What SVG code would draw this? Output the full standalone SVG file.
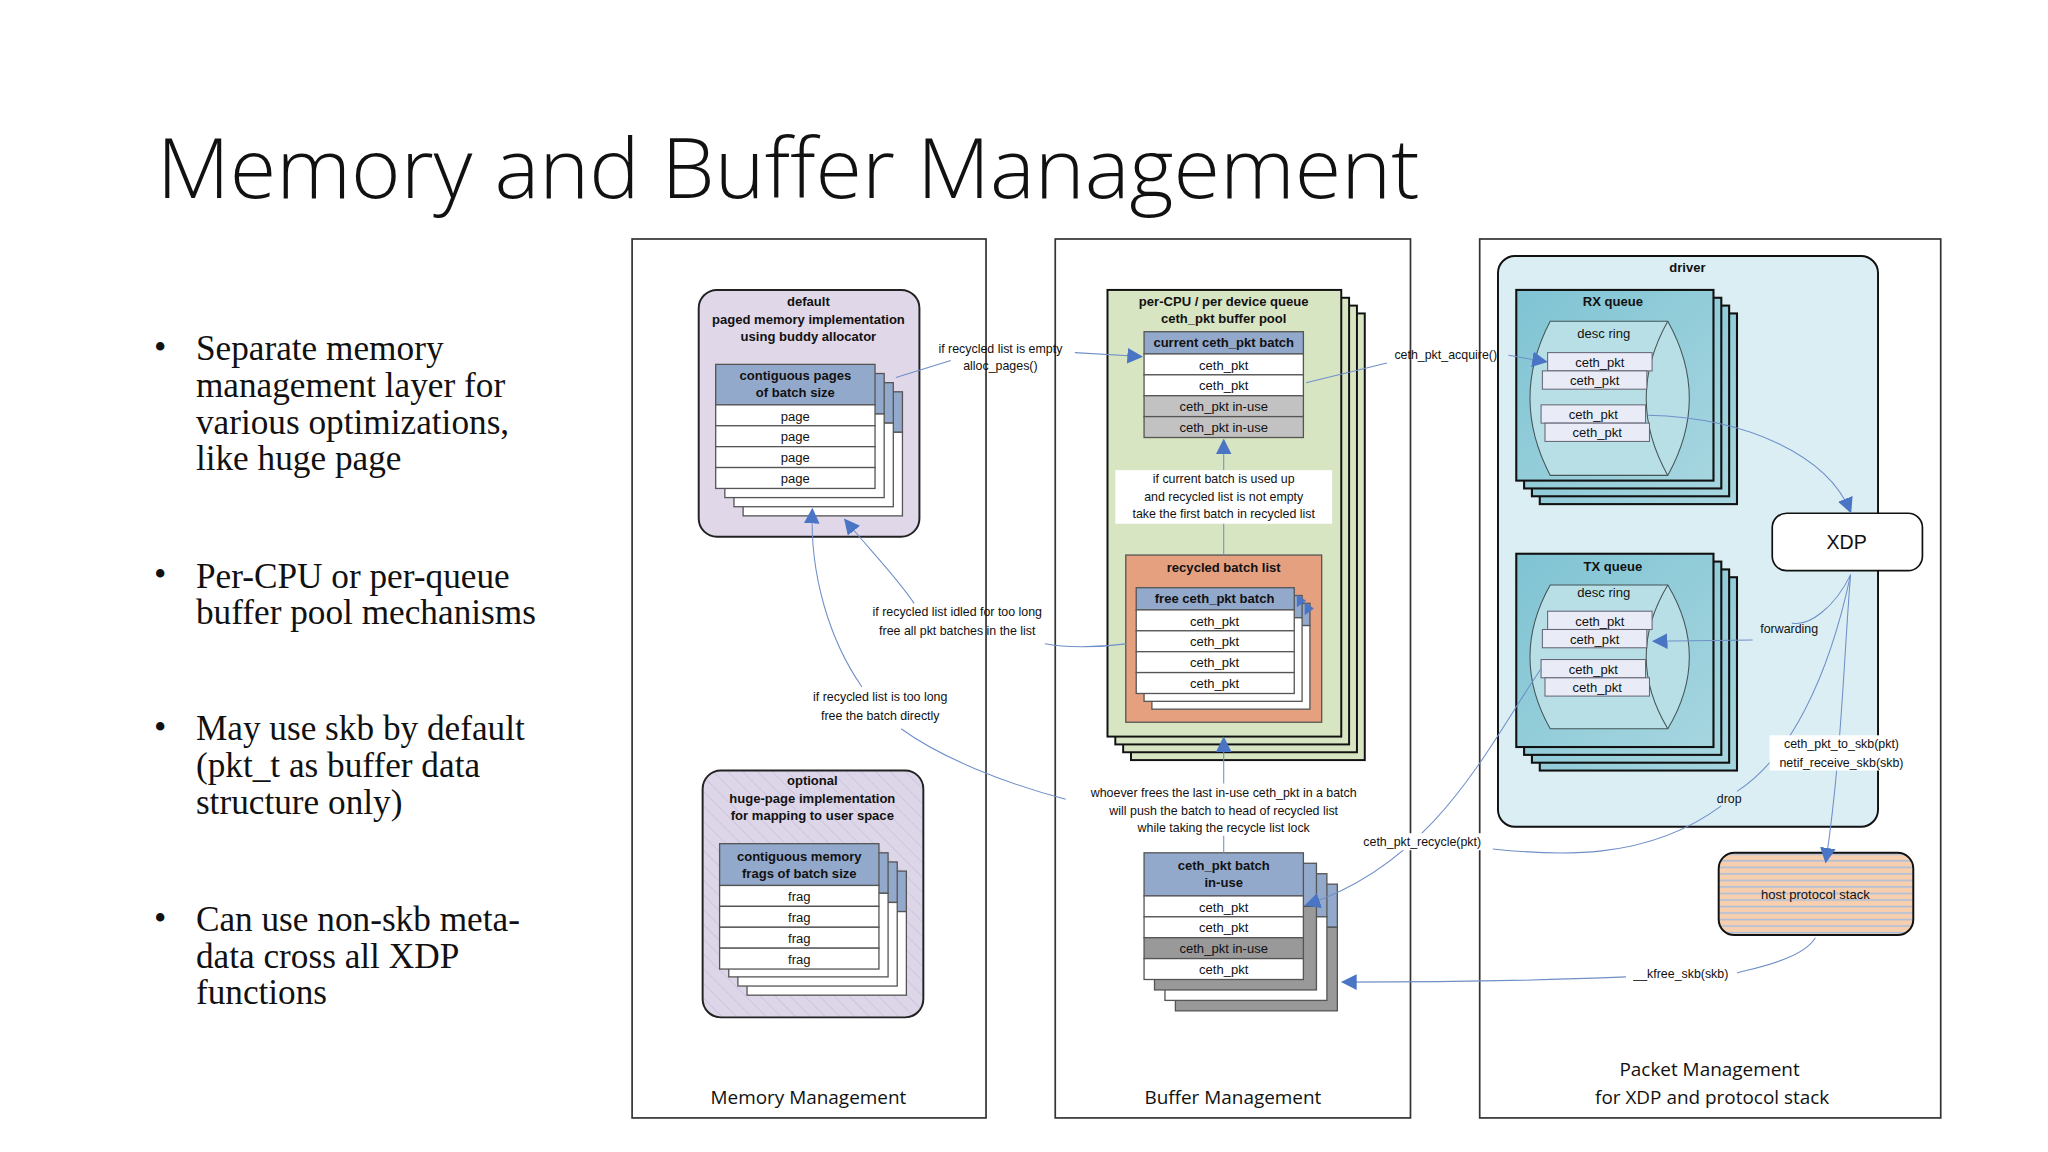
<svg xmlns="http://www.w3.org/2000/svg" width="2048" height="1152" viewBox="0 0 2048 1152">
<defs>
<style>
.pan{fill:none;stroke:#333;stroke-width:1.3}
.pl{font-family:"Open Sans",sans-serif;font-size:14.5px;text-anchor:middle;fill:#111}
.b{font-family:"Liberation Sans",sans-serif;font-size:10px;font-weight:bold;text-anchor:middle;fill:#111}
.t{font-family:"Liberation Sans",sans-serif;font-size:10px;text-anchor:middle;fill:#111}
.lab{font-family:"Liberation Sans",sans-serif;font-size:9.5px;text-anchor:middle;fill:#111}
.hd{fill:#93a9cc;stroke:#555;stroke-width:1}
.w{fill:#fff;stroke:#555;stroke-width:1}
.g{fill:#c2c2c2;stroke:#555;stroke-width:1}
.dg{fill:#999;stroke:#555;stroke-width:1}
.cell{fill:#e9ecf7;stroke:#667;stroke-width:0.8}
.q{fill:url(#teal);stroke:#111;stroke-width:1.6}
.ring{fill:#b9dfe6;stroke:#455;stroke-width:0.8}
.c{fill:none;stroke:#6f8fc8;stroke-width:0.8}
.ca{fill:none;stroke:#6f8fc8;stroke-width:0.8;marker-end:url(#ah)}
.bul{font-family:"Liberation Serif",serif;font-size:27px;fill:#111}
</style>
<marker id="ah" viewBox="0 0 10 10" refX="9" refY="5" markerWidth="12" markerHeight="12" markerUnits="userSpaceOnUse" orient="auto"><path d="M0,0L10,5L0,10z" fill="#4a74c4"/></marker>
<linearGradient id="teal" x1="0" y1="0" x2="1" y2="1"><stop offset="0" stop-color="#7fc3d3"/><stop offset="1" stop-color="#a6d6e0"/></linearGradient>
<pattern id="hatch" width="8" height="8" patternUnits="userSpaceOnUse" patternTransform="rotate(-45)"><rect width="8" height="8" fill="#ddd6e8"/><line x1="0" y1="0" x2="0" y2="8" stroke="#c8bedb" stroke-width="1"/></pattern>
<pattern id="stripe" width="6" height="5" patternUnits="userSpaceOnUse"><rect width="6" height="5" fill="#f8cfae"/><rect y="3.5" width="6" height="1.2" fill="#a9bfdc"/></pattern>
</defs>
<rect width="2048" height="1152" fill="#fff"/>
<g transform="scale(1.306)">
<text x="120" y="152" font-family="Open Sans,sans-serif" font-weight="300" font-size="64" textLength="967" lengthAdjust="spacingAndGlyphs" fill="#111">Memory and Buffer Management</text>
<g id="bullets">
<text class="bul" x="118" y="275">•</text>
<text class="bul" x="150" y="276">Separate memory</text>
<text class="bul" x="150" y="304">management layer for</text>
<text class="bul" x="150" y="332">various optimizations,</text>
<text class="bul" x="150" y="360">like huge page</text>
<text class="bul" x="118" y="449">•</text>
<text class="bul" x="150" y="450">Per-CPU or per-queue</text>
<text class="bul" x="150" y="478">buffer pool mechanisms</text>
<text class="bul" x="118" y="566">•</text>
<text class="bul" x="150" y="567">May use skb by default</text>
<text class="bul" x="150" y="595">(pkt_t as buffer data</text>
<text class="bul" x="150" y="623">structure only)</text>
<text class="bul" x="118" y="712">•</text>
<text class="bul" x="150" y="713">Can use non-skb meta-</text>
<text class="bul" x="150" y="741">data cross all XDP</text>
<text class="bul" x="150" y="769">functions</text>
</g>

<g id="panels">
<rect class="pan" x="484" y="183" width="271" height="673"/>
<text class="pl" x="619" y="845">Memory Management</text>
<rect class="pan" x="808" y="183" width="272" height="673"/>
<text class="pl" x="944" y="845">Buffer Management</text>
<rect class="pan" x="1133" y="183" width="353" height="673"/>
<text class="pl" x="1309" y="824">Packet Management</text>
<text class="pl" x="1311" y="845">for XDP and protocol stack</text>
</g>

<g id="default-mem">
<rect x="535" y="222" width="169" height="189" rx="14" fill="#e0d7e8" stroke="#222" stroke-width="1.5"/>
<text class="b" x="619" y="234">default</text>
<text class="b" x="619" y="248">paged memory implementation</text>
<text class="b" x="619" y="261">using buddy allocator</text>
<g><rect class="hd" x="569" y="300" width="122" height="31"/><rect class="w" x="569" y="331" width="122" height="64"/></g>
<g><rect class="hd" x="562" y="293" width="122" height="31"/><rect class="w" x="562" y="324" width="122" height="64"/></g>
<g><rect class="hd" x="555" y="286" width="122" height="31"/><rect class="w" x="555" y="317" width="122" height="64"/></g>
<rect class="hd" x="548" y="279" width="122" height="31"/>
<rect class="w" x="548" y="310" width="122" height="16"/><rect class="w" x="548" y="326" width="122" height="16"/><rect class="w" x="548" y="342" width="122" height="16"/><rect class="w" x="548" y="358" width="122" height="16"/>
<text class="b" x="609" y="291" font-size="11">contiguous pages</text>
<text class="b" x="609" y="304" font-size="11">of batch size</text>
<text class="t" x="609" y="322">page</text><text class="t" x="609" y="338">page</text><text class="t" x="609" y="354">page</text><text class="t" x="609" y="370">page</text>
</g>

<g id="optional-mem">
<rect x="538" y="590" width="169" height="189" rx="14" fill="url(#hatch)" stroke="#222" stroke-width="1.5"/>
<text class="b" x="622" y="601">optional</text>
<text class="b" x="622" y="615">huge-page implementation</text>
<text class="b" x="622" y="628">for mapping to user space</text>
<g><rect class="hd" x="572" y="667" width="122" height="31"/><rect class="w" x="572" y="698" width="122" height="64"/></g>
<g><rect class="hd" x="565" y="660" width="122" height="31"/><rect class="w" x="565" y="691" width="122" height="64"/></g>
<g><rect class="hd" x="558" y="653" width="122" height="31"/><rect class="w" x="558" y="684" width="122" height="64"/></g>
<rect class="hd" x="551" y="646" width="122" height="32"/>
<rect class="w" x="551" y="678" width="122" height="16"/><rect class="w" x="551" y="694" width="122" height="16"/><rect class="w" x="551" y="710" width="122" height="16"/><rect class="w" x="551" y="726" width="122" height="16"/>
<text class="b" x="612" y="659" font-size="11">contiguous memory</text>
<text class="b" x="612" y="672" font-size="11">frags of batch size</text>
<text class="t" x="612" y="690">frag</text><text class="t" x="612" y="706">frag</text><text class="t" x="612" y="722">frag</text><text class="t" x="612" y="738">frag</text>
</g>

<g id="buffer-pool">
<rect x="866" y="240" width="179" height="342" fill="#d8e5c3" stroke="#111" stroke-width="1.5"/>
<rect x="860" y="234" width="179" height="342" fill="#d8e5c3" stroke="#111" stroke-width="1.5"/>
<rect x="854" y="228" width="179" height="342" fill="#d8e5c3" stroke="#111" stroke-width="1.5"/>
<rect x="848" y="222" width="179" height="342" fill="#d8e5c3" stroke="#111" stroke-width="1.5"/>
<text class="b" x="937" y="234" font-size="11">per-CPU / per device queue</text>
<text class="b" x="937" y="247" font-size="11">ceth_pkt buffer pool</text>
<rect class="hd" x="876" y="254" width="122" height="17"/>
<rect class="w" x="876" y="271" width="122" height="16"/><rect class="w" x="876" y="287" width="122" height="16"/><rect class="g" x="876" y="303" width="122" height="16"/><rect class="g" x="876" y="319" width="122" height="16"/>
<text class="b" x="937" y="266">current ceth_pkt batch</text>
<text class="t" x="937" y="283">ceth_pkt</text><text class="t" x="937" y="299">ceth_pkt</text><text class="t" x="937" y="315">ceth_pkt in-use</text><text class="t" x="937" y="331">ceth_pkt in-use</text>
</g>

<g id="recycled-list">
<rect x="862" y="425" width="150" height="128" fill="#e5a080" stroke="#555" stroke-width="1"/>
<text class="b" x="937" y="438" font-size="11">recycled batch list</text>
<g><rect class="hd" x="882" y="462" width="121" height="17"/><rect class="w" x="882" y="479" width="121" height="64"/></g>
<g><rect class="hd" x="876" y="456" width="121" height="17"/><rect class="w" x="876" y="473" width="121" height="64"/></g>
<rect class="hd" x="870" y="450" width="121" height="17"/>
<rect class="w" x="870" y="467" width="121" height="16"/><rect class="w" x="870" y="483" width="121" height="16"/><rect class="w" x="870" y="499" width="121" height="16"/><rect class="w" x="870" y="515" width="121" height="16"/>
<text class="b" x="930" y="462" font-size="11">free ceth_pkt batch</text>
<text class="t" x="930" y="479">ceth_pkt</text><text class="t" x="930" y="495">ceth_pkt</text><text class="t" x="930" y="511">ceth_pkt</text><text class="t" x="930" y="527">ceth_pkt</text>
<path d="M993,455 L1000,460 L993,465z" fill="#4a74c4"/><path d="M999,461 L1006,466 L999,471z" fill="#4a74c4"/>
</g>

<g id="inuse-batch">
<g><rect class="hd" x="900" y="677" width="124" height="33"/><rect class="dg" x="900" y="710" width="124" height="64"/></g>
<g><rect class="hd" x="892" y="669" width="124" height="33"/><rect class="w" x="892" y="702" width="124" height="64"/></g>
<g><rect class="hd" x="884" y="661" width="124" height="33"/><rect class="dg" x="884" y="694" width="124" height="64"/></g>
<rect class="hd" x="876" y="653" width="122" height="33"/>
<rect class="w" x="876" y="686" width="122" height="16"/><rect class="w" x="876" y="702" width="122" height="16"/><rect class="dg" x="876" y="718" width="122" height="16"/><rect class="w" x="876" y="734" width="122" height="16"/>
<text class="b" x="937" y="666">ceth_pkt batch</text>
<text class="b" x="937" y="679">in-use</text>
<text class="t" x="937" y="698">ceth_pkt</text><text class="t" x="937" y="714">ceth_pkt</text><text class="t" x="937" y="730">ceth_pkt in-use</text><text class="t" x="937" y="746">ceth_pkt</text>
</g>

<g id="driver">
<rect x="1147" y="196" width="291" height="437" rx="13" fill="#dbeef4" stroke="#111" stroke-width="1.5"/>
<text class="b" x="1292" y="208">driver</text>
</g>
<g id="rx-queue">
<rect class="q" x="1179" y="240" width="151" height="146"/><rect class="q" x="1173" y="234" width="151" height="146"/><rect class="q" x="1167" y="228" width="151" height="146"/><rect class="q" x="1161" y="222" width="151" height="146"/>
<text class="b" x="1235" y="234" font-size="11.5">RX queue</text>
<path class="ring" d="M1187,246 L1277,246 Q1310,305 1277,364 L1187,364 Q1156,305 1187,246 Z"/>
<path fill="none" stroke="#455" stroke-width="0.8" d="M1277,246 Q1244,305 1277,364"/>
<text class="t" x="1228" y="259" font-size="11">desc ring</text>
<rect class="cell" x="1185" y="270" width="80" height="14"/><rect class="cell" x="1181" y="284" width="80" height="14"/><rect class="cell" x="1180" y="310" width="80" height="14"/><rect class="cell" x="1183" y="324" width="80" height="14"/>
<text class="t" x="1225" y="281" font-size="11">ceth_pkt</text><text class="t" x="1221" y="295" font-size="11">ceth_pkt</text><text class="t" x="1220" y="321" font-size="11">ceth_pkt</text><text class="t" x="1223" y="335" font-size="11">ceth_pkt</text>
</g>
<g id="tx-queue">
<rect class="q" x="1179" y="442" width="151" height="148"/><rect class="q" x="1173" y="436" width="151" height="148"/><rect class="q" x="1167" y="430" width="151" height="148"/><rect class="q" x="1161" y="424" width="151" height="148"/>
<text class="b" x="1235" y="437" font-size="11.5">TX queue</text>
<path class="ring" d="M1187,448 L1277,448 Q1310,503 1277,558 L1187,558 Q1156,503 1187,448 Z"/>
<path fill="none" stroke="#455" stroke-width="0.8" d="M1277,448 Q1244,503 1277,558"/>
<text class="t" x="1228" y="457" font-size="11">desc ring</text>
<rect class="cell" x="1185" y="468" width="80" height="14"/><rect class="cell" x="1181" y="482" width="80" height="14"/><rect class="cell" x="1180" y="505" width="80" height="14"/><rect class="cell" x="1183" y="519" width="80" height="14"/>
<text class="t" x="1225" y="479" font-size="11">ceth_pkt</text><text class="t" x="1221" y="493" font-size="11">ceth_pkt</text><text class="t" x="1220" y="516" font-size="11">ceth_pkt</text><text class="t" x="1223" y="530" font-size="11">ceth_pkt</text>
</g>
<g id="xdp">
<rect x="1357" y="393" width="115" height="44" rx="11" fill="#fff" stroke="#111" stroke-width="1.3"/>
<text x="1414" y="420" font-family="Liberation Sans,sans-serif" font-size="15" text-anchor="middle" fill="#111">XDP</text>
</g>
<g id="host-stack">
<rect x="1316" y="653" width="149" height="63" rx="12" fill="url(#stripe)" stroke="#111" stroke-width="1.5"/>
<text class="t" x="1390" y="688" font-size="11">host protocol stack</text>
</g>

<g id="connectors">
<path class="c" d="M686,289 L728,276"/>
<path class="ca" d="M823,270 L874,273"/>
<text class="lab" x="766" y="270">if recycled list is empty</text>
<text class="lab" x="766" y="283">alloc_pages()</text>
<path class="ca" d="M937,425 L937,337"/>
<rect x="854" y="360" width="166" height="41" fill="#fff"/>
<text class="lab" x="937" y="370">if current batch is used up</text>
<text class="lab" x="937" y="384">and recycled list is not empty</text>
<text class="lab" x="937" y="397">take the first batch in recycled list</text>
<path class="c" d="M862,493 C840,496 815,496 800,493"/>
<path class="ca" d="M700,462 C685,440 665,420 647,398"/>
<text class="lab" x="733" y="472">if recycled list idled for too long</text>
<text class="lab" x="733" y="486">free all pkt batches in the list</text>
<path class="c" d="M816,612 C770,600 720,580 690,558"/>
<path class="ca" d="M660,526 C635,490 620,440 622,390"/>
<text class="lab" x="674" y="537">if recycled list is too long</text>
<text class="lab" x="674" y="551">free the batch directly</text>
<path class="c" d="M937,653 L937,640"/>
<path class="ca" d="M937,600 L937,565"/>
<text class="lab" x="937" y="610">whoever frees the last in-use ceth_pkt in a batch</text>
<text class="lab" x="937" y="624">will push the batch to head of recycled list</text>
<text class="lab" x="937" y="637">while taking the recycle list lock</text>
<path class="c" d="M1000,293 L1062,278"/>
<path class="ca" d="M1155,272 L1184,277"/>
<text class="lab" x="1107" y="275">ceth_pkt_acquire()</text>
<path class="ca" d="M1262,318 C1340,320 1400,350 1417,392"/>
<path class="c" d="M1417,440 C1405,465 1385,480 1372,477"/>
<path class="ca" d="M1342,490 L1266,491"/>
<text class="lab" x="1370" y="485">forwarding</text>
<path class="ca" d="M1180,512 C1140,570 1100,660 1000,693"/>
<path class="c" d="M1417,440 C1400,520 1370,580 1330,606"/>
<path class="c" d="M1318,617 C1260,660 1190,655 1143,650"/>
<text class="lab" x="1324" y="615">drop</text>
<rect x="1036" y="638" width="106" height="13" fill="#fff"/>
<text class="lab" x="1089" y="648">ceth_pkt_recycle(pkt)</text>
<path class="ca" d="M1417,440 C1412,500 1410,580 1398,660"/>
<rect x="1355" y="563" width="112" height="27" fill="#fff"/>
<text class="lab" x="1410" y="573">ceth_pkt_to_skb(pkt)</text>
<text class="lab" x="1410" y="587">netif_receive_skb(skb)</text>
<path class="c" d="M1390,718 C1380,735 1340,742 1330,745"/>
<path class="ca" d="M1245,748 C1150,752 1080,752 1028,752"/>
<text class="lab" x="1287" y="749">__kfree_skb(skb)</text>
</g>
</g>
</svg>
